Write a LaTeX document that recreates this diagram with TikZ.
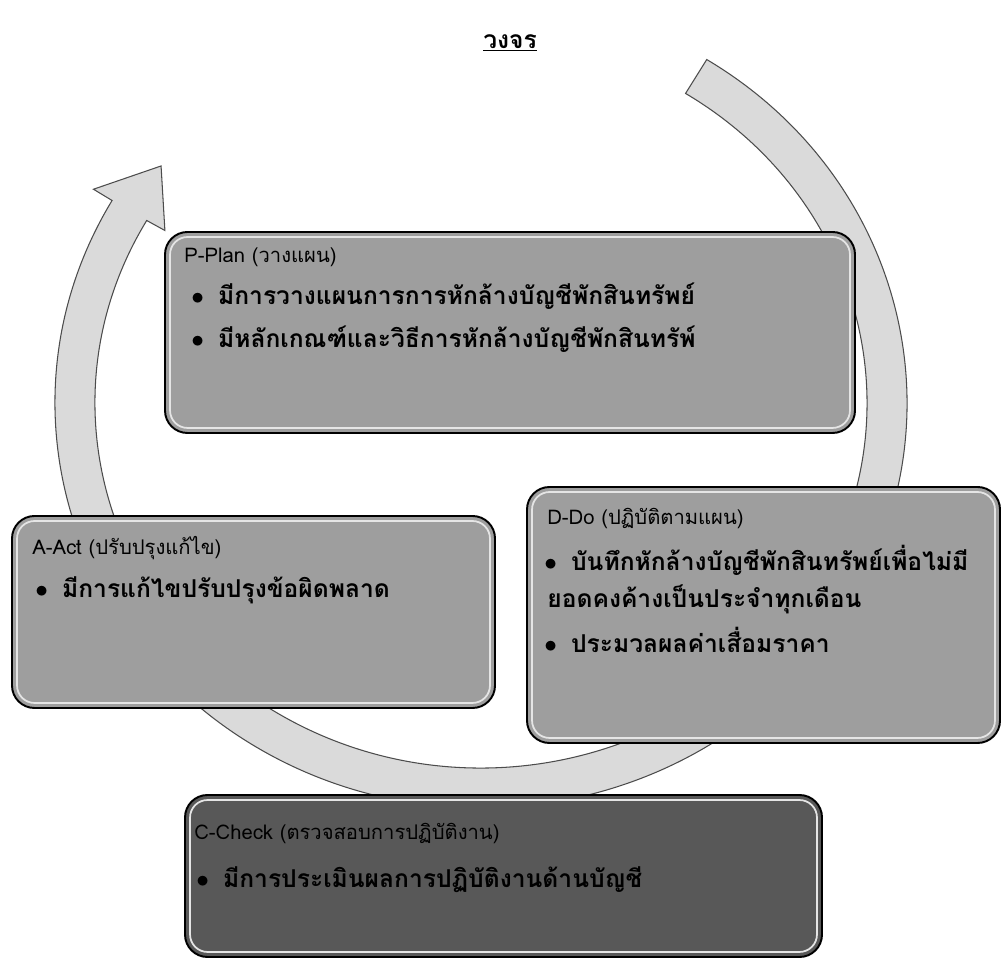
\documentclass[tikz,border=0pt]{standalone}
\usepackage{fontspec}
\newfontfamily\thaifont[Script=Thai]{Loma}
\definecolor{boxgray}{RGB}{158,158,158}
\definecolor{checkgray}{RGB}{88,88,88}
\definecolor{ringgray}{RGB}{218,218,218}
\usetikzlibrary{calc}

\begin{document}
\begin{tikzpicture}[
  stagebox/.style={draw=black, line width=1.1pt, fill=boxgray, rounded corners=0.45cm, inner sep=0pt},
  rim/.style={draw=white!80!gray, line width=1pt, rounded corners=0.35cm},
  headtext/.style={anchor=base west, inner sep=0pt, font=\thaifont\fontsize{11.5}{14}\selectfont},
  itemtext/.style={anchor=base west, inner sep=0pt, font=\thaifont\bfseries\fontsize{14}{17}\selectfont},
  ring/.style={fill=ringgray, draw=black!70, line width=0.6pt}
]
  \useasboundingbox (0,0) rectangle (20.12,19.34);
  % Title
  \node[font=\thaifont\bfseries\fontsize{14}{16}\selectfont] (title) at (10.2,18.48) {\underline{วงจร}};
  % Circular arrow
  \coordinate (ctr) at (9.62,11.28);
  \fill[ring] ($(ctr)+(58:8.52 and 8.1)$)
    arc[start angle=58, end angle=-210, x radius=8.52, y radius=8.1]
    -- ($(ctr)+(-210:8.95 and 8.55)$)
    -- ($(ctr)+(-218:8.12 and 7.7)$)
    -- ($(ctr)+(-210:7.3 and 6.9)$)
    -- ($(ctr)+(-210:7.72 and 7.3)$)
    arc[start angle=-210, end angle=58, x radius=7.72, y radius=7.3]
    -- cycle;
  % Stage boxes
  \node[stagebox, minimum width=13.8cm, minimum height=4.02cm] (pbox) at (10.2,12.69) {};
  \node[stagebox, minimum width=9.66cm, minimum height=3.84cm] (abox) at (5.07,7.1) {};
  \node[stagebox, minimum width=9.46cm, minimum height=5.12cm] (dbox) at (15.27,7.04) {};
  \node[stagebox, fill=checkgray, minimum width=12.74cm, minimum height=3.24cm] (cbox) at (10.07,1.82) {};
  \foreach \b in {pbox,abox,dbox,cbox} {
    \draw[rim] ($(\b.north west)+(0.12,-0.12)$) rectangle ($(\b.south east)+(-0.12,0.12)$);
  }
  % P-Plan
  \node[headtext] (phead) at ($(pbox.north west)+(0.4,-0.62)$) {P-Plan (วางแผน)};
  \node[itemtext] (pitem1) at ($(pbox.north west)+(0.54,-1.46)$) {$\bullet$\hskip 8pt มีการวางแผนการการหักล้างบัญชีพักสินทรัพย์};
  \node[itemtext] (pitem2) at ($(pbox.north west)+(0.54,-2.32)$) {$\bullet$\hskip 8pt มีหลักเกณฑ์และวิธีการหักล้างบัญชีพักสินทรัพ์};
  % A-Act
  \node[headtext] (ahead) at ($(abox.north west)+(0.42,-0.78)$) {A-Act (ปรับปรุงแก้ไข)};
  \node[itemtext] (aitem1) at ($(abox.north west)+(0.48,-1.64)$) {$\bullet$\hskip 8pt มีการแก้ไขปรับปรุงข้อผิดพลาด};
  % D-Do
  \node[headtext] (dhead) at ($(dbox.north west)+(0.42,-0.76)$) {D-Do (ปฏิบัติตามแผน)};
  \node[itemtext] (ditem1) at ($(dbox.north west)+(0.36,-1.68)$) {$\bullet$\hskip 8pt บันทึกหักล้างบัญชีพักสินทรัพย์เพื่อไม่มี};
  \node[itemtext] (ditem1b) at ($(dbox.north west)+(0.42,-2.42)$) {ยอดคงค้างเป็นประจำทุกเดือน};
  \node[itemtext] (ditem2) at ($(dbox.north west)+(0.36,-3.32)$) {$\bullet$\hskip 8pt ประมวลผลค่าเสื่อมราคา};
  % C-Check
  \node[headtext] (chead) at ($(cbox.north west)+(0.2,-0.9)$) {C-Check (ตรวจสอบการปฏิบัติงาน)};
  \node[itemtext] (citem1) at ($(cbox.north west)+(0.24,-1.86)$) {$\bullet$\hskip 8pt มีการประเมินผลการปฏิบัติงานด้านบัญชี};
\end{tikzpicture}
\end{document}
